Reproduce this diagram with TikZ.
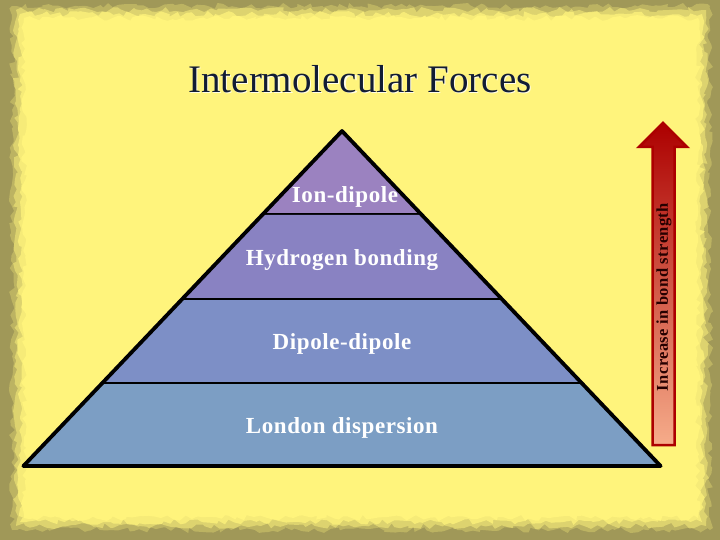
\documentclass[tikz,border=0pt]{standalone}
\usepackage{fontspec}
\setmainfont{Liberation Serif}
\usetikzlibrary{decorations.pathmorphing}

\definecolor{slide}{RGB}{255,244,124}
\definecolor{crayon}{RGB}{160,152,88}
\definecolor{bandA}{RGB}{155,130,192}
\definecolor{bandB}{RGB}{137,130,194}
\definecolor{bandC}{RGB}{125,143,198}
\definecolor{bandD}{RGB}{124,158,196}
\definecolor{titleblue}{RGB}{18,28,52}
\definecolor{arrowdark}{RGB}{172,0,0}
\definecolor{arrowred}{RGB}{228,10,10}
\definecolor{arrowpale}{RGB}{246,172,138}

\tikzset{
  bandlabel/.style={text=white, anchor=base,
    font=\bfseries\fontsize{23}{26}\selectfont\addfontfeature{LetterSpace=2.5}},
  edge/.style={line width=3.8pt, line join=round}
}

\begin{document}
\begin{tikzpicture}[x=1pt,y=-1pt]
    \def \apex {342}
    \def \tip {131}
    \def \slope {0.951} % half width per unit of height
    \useasboundingbox (0,0) rectangle (720,540);
    % crayon frame
    \fill[crayon] (0,0) rectangle (720,540);
    \foreach \d/\o in {0/0.3,4/0.5,8/0.75,12/1}
    {
      \fill[slide, opacity=\o, decorate,
        decoration={random steps, segment length=5pt, amplitude=3pt}]
        (12+\d,6+\d) rectangle (710-\d,530-\d);
    }
    % title
    \node[text=white!80!slide, anchor=base, font=\fontsize{39}{44}\selectfont] at (361,94) {Intermolecular Forces};
    \node (title) [text=titleblue, anchor=base, font=\fontsize{39}{44}\selectfont] at (360,93) {Intermolecular Forces};
    % pyramid bands
    \foreach \ya/\yb/\col/\lbl/\base in {131/215/bandA/ion/203, 215/300/bandB/hydrogen/265,
        300/384/bandC/dipole/349, 384/466/bandD/london/433}
    {
      \fill[\col] ({\apex-\slope*(\ya-\tip)},\ya) -- ({\apex+\slope*(\ya-\tip)},\ya)
        -- ({\apex+\slope*(\yb-\tip)},\yb) -- ({\apex-\slope*(\yb-\tip)},\yb) -- cycle;
      \draw[edge] ({\apex-\slope*(\yb-\tip)},\yb) -- ({\apex+\slope*(\yb-\tip)},\yb);
      \coordinate (\lbl) at (\apex,\base);
    }
    \draw[edge] ({\apex-\slope*(466-\tip)},466) -- (\apex,\tip) -- ({\apex+\slope*(466-\tip)},466) -- cycle;
    \node[bandlabel] at ([xshift=3pt]ion) {Ion-dipole};
    \node[bandlabel] at (hydrogen) {Hydrogen bonding};
    \node[bandlabel] at (dipole) {Dipole-dipole};
    \node[bandlabel] at (london) {London dispersion};
    % strength arrow
    \shade[draw=arrowdark, line width=2.5pt, line join=miter,
      top color=arrowdark, middle color=arrowred, bottom color=arrowpale]
      (663,123) -- (687,147) -- (674.5,147) -- (674.5,445) -- (652.5,445)
      -- (652.5,147) -- (639,147) -- cycle;
    \node (strength) [rotate=90, text=black!85!red,
      font=\bfseries\fontsize{16.5}{18}\selectfont\addfontfeature{LetterSpace=2.5}]
      at (664,297) {Increase in bond strength};
\end{tikzpicture}
\end{document}
